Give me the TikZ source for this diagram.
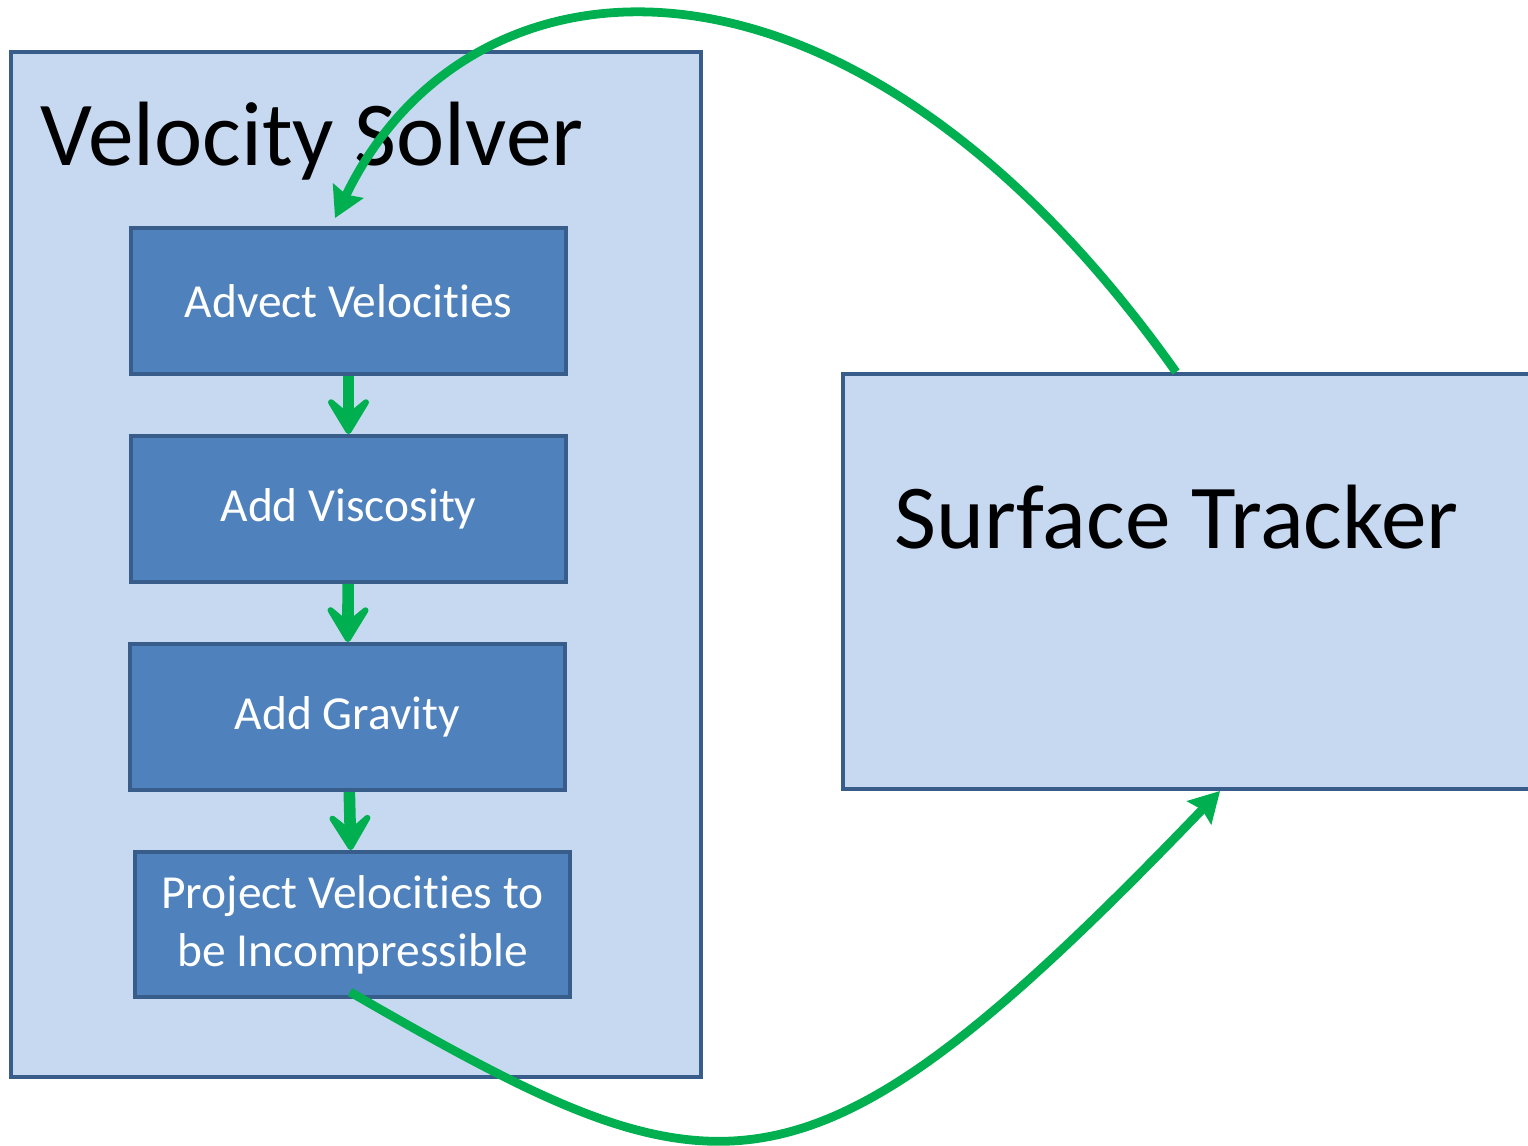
\documentclass[tikz,border=0pt]{standalone}
\usepackage{fontspec}
\setmainfont{Carlito}[Ligatures={NoCommon,NoRequired},Contextuals=NoAlternate]
\usetikzlibrary{arrows.meta,calc}
\definecolor{paleblue}{HTML}{C6D9F1}
\definecolor{stepblue}{HTML}{4F81BD}
\definecolor{edgeblue}{HTML}{385D8A}
\definecolor{flowgreen}{HTML}{00B050}
\begin{document}
\begin{tikzpicture}[
  panel/.style={draw=edgeblue,line width=1.1pt,fill=paleblue,inner sep=0pt},
  stepbox/.style={draw=edgeblue,line width=1.1pt,fill=stepblue,text=white,minimum width=4.35cm,
    minimum height=1.46cm,inner sep=0pt,align=center,font=\fontsize{13.5}{16.5}\selectfont},
  bigtext/.style={font=\fontsize{26}{30}\selectfont,inner sep=0pt},
  down/.style={flowgreen,line width=3.3pt,-{Stealth[length=0.48cm,width=0.58cm,inset=0.24cm,round]}},
  loop/.style={flowgreen,line width=2.5pt,-{Stealth[length=0.3cm,width=0.33cm,inset=0.04cm]}}]
  \clip (0,0) rectangle (15.28,-11.45);
  % the two blocks
  \node[panel,minimum width=6.9cm,minimum height=10.25cm] (solver) at (3.56,-5.645) {};
  \node[panel,minimum width=7.57cm,minimum height=4.15cm] (tracker) at (12.215,-5.815) {};
  \node[bigtext,anchor=base west] (title) at (0.40,-1.65) {Velocity Solver};
  \node[bigtext,anchor=base] (trackname) at (11.765,-5.48) {Surface Tracker};
  % solver steps
  \node[stepbox] (advect) at (3.485,-3.01) {Advect Velocities};
  \node[stepbox] (viscosity) at (3.485,-5.09) {Add Viscosity};
  \node[stepbox] (gravity) at (3.475,-7.17) {Add Gravity};
  \node[stepbox,minimum height=1.45cm] (project) at (3.525,-9.245) {Project Velocities to\\be Incompressible};
  \draw[down] (advect) -- (viscosity);
  \draw[down] (viscosity) -- (gravity);
  \draw[down] (gravity) -- (project);
  % loop between solver and tracker
  \draw[loop] ($(tracker.north west)+(3.35,0)$) .. controls (8.50,0.88) and (4.70,0.62) .. ($(advect.north)+(-0.135,0.08)$);
  \draw[loop] ($(project.south)+(-0.025,0.07)$) .. controls (7.20,-12.05) and (8.00,-12.28) .. ($(tracker.south west)+(3.79,0)$);
\end{tikzpicture}
\end{document}
